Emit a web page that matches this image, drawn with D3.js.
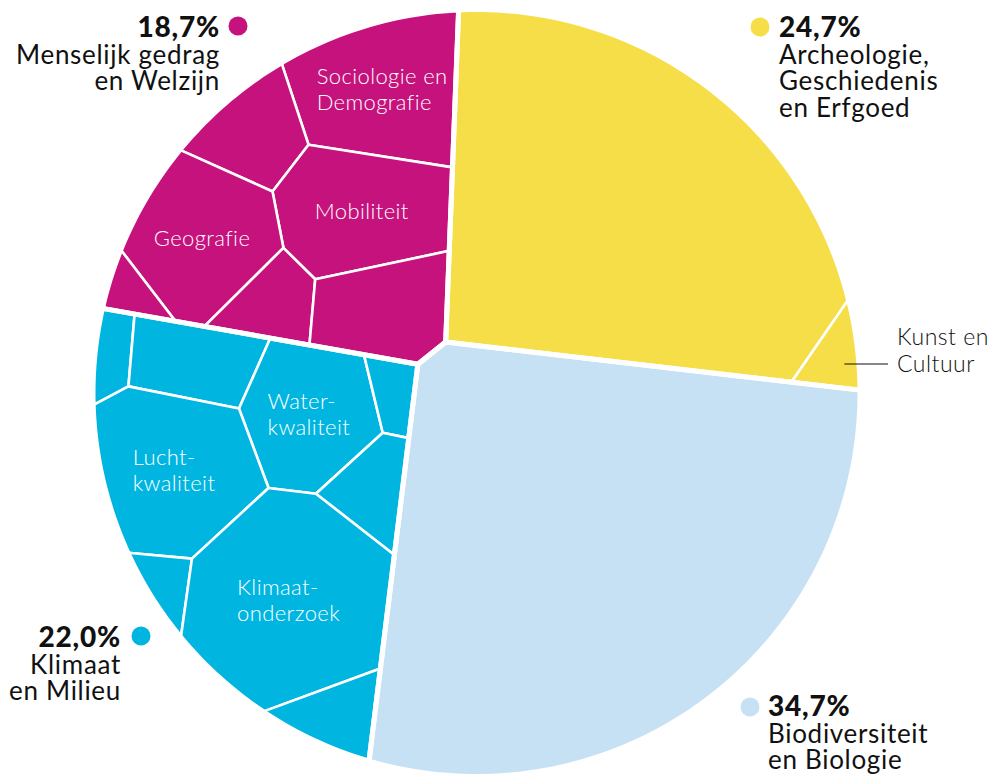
<!DOCTYPE html>
<html>
<head>
<meta charset="utf-8">
<script src="https://cdn.jsdelivr.net/npm/d3@7"></script>
<style>
	body { margin: 0; background: #fff; }
	svg { display: block; font-family: Lato, "Open Sans", sans-serif; }
	.cell-label { fill: #fff; font-weight: 300; font-size: 22px; letter-spacing: 0.4px; }
	.group-pct { font-weight: 900; font-size: 28px; letter-spacing: 0.8px; fill: #111; }
	.group-name { font-weight: 400; font-size: 26px; letter-spacing: 0.7px; fill: #111; }
	.callout { font-weight: 300; font-size: 23px; letter-spacing: 0.5px; fill: #111; }
</style>
</head>
<body>
<svg id="chart" width="996" height="776"></svg>
<script>

/* top level groups, % of all projects */
var groups = ["Menselijk gedrag|en Welzijn", "Archeologie,|Geschiedenis|en Erfgoed", "Biodiversiteit|en Biologie", "Klimaat|en Milieu"]
var groupValues = [18.7, 24.7, 34.7, 22.0]
var groupColors = ["#c5127c", "#f6de48", "#c6e1f3", "#00b6e1"]

/* sub cells inside each group (% of all) */
var magentaCells = ["Sociologie en|Demografie", "", "Mobiliteit", "Geografie", "", "", ""]
var magentaValues = [4.5, 1.9, 4.0, 3.9, 0.5, 1.3, 2.6]

var yellowCells = ["", "Kunst en|Cultuur"]
var yellowValues = [24.0, 0.7]

var blueCells = [""]
var blueValues = [34.7]

var cyanCells = ["", "", "Water-|kwaliteit", "", "Lucht-|kwaliteit", "", "", "Klimaat-|onderzoek", ""]
var cyanValues = [0.65, 2.0, 3.45, 0.65, 4.75, 1.3, 0.6, 7.4, 1.2]

var subNames = [magentaCells, yellowCells, blueCells, cyanCells]
var subValues = [magentaValues, yellowValues, blueValues, cyanValues]

/* layout: voronoi site seeds in circle units (-1..1) */
var groupSeeds = [[-0.421, -0.493], [0.400, -0.461], [0.299, 0.409], [-0.562, 0.303]]
var subSeeds = [
	[[-0.246, -0.790], [-0.570, -0.683], [-0.296, -0.472], [-0.700, -0.394], [-0.888, -0.250], [-0.536, -0.229], [-0.239, -0.203]],
	[[0.383, -0.472], [0.935, -0.091]],
	[[0.299, 0.409]],
	[[-0.950, -0.086], [-0.739, -0.068], [-0.429, 0.070], [-0.213, 0.018], [-0.794, 0.206], [-0.262, 0.253], [-0.820, 0.493], [-0.486, 0.540], [-0.372, 0.850]]
]

var cx = 476.5, cy = 393, rad = 383.5

var x = d3.scaleLinear().domain([-1, 1]).range([cx - rad, cx + rad])
var y = d3.scaleLinear().domain([-1, 1]).range([cy - rad, cy + rad])

var circle = d3.range(360).map(function(i){
	var a = i / 360 * 2 * Math.PI
	return [x(Math.cos(a)), y(Math.sin(a))]
})

/* keep the part of a convex polygon where a*x + b*y <= c */
function clip(poly, a, b, c){
	var out = []
	for (var i = 0; i < poly.length; i++){
		var p = poly[i], q = poly[(i + 1) % poly.length]
		var fp = a * p[0] + b * p[1] - c, fq = a * q[0] + b * q[1] - c
		if (fp <= 0) out.push(p)
		if ((fp < 0 && fq > 0) || (fp > 0 && fq < 0)){
			var t = fp / (fp - fq)
			out.push([p[0] + t * (q[0] - p[0]), p[1] + t * (q[1] - p[1])])
		}
	}
	return out
}

/* power diagram (weighted voronoi) clipped to a convex container */
function powerCells(sites, w, container){
	return sites.map(function(p, i){
		var poly = container
		sites.forEach(function(q, j){
			if (i == j || poly.length == 0) return
			var a = 2 * (q[0] - p[0]), b = 2 * (q[1] - p[1])
			var c = q[0] * q[0] + q[1] * q[1] - p[0] * p[0] - p[1] * p[1] - w[j] + w[i]
			poly = clip(poly, a, b, c)
		})
		return poly
	})
}

function area(poly){
	return poly.length > 2 ? Math.abs(d3.polygonArea(poly)) : 0
}

/* move the weights until every cell gets its share of the container */
function fitCells(sites, values, container, eta){
	var total = d3.sum(values)
	var targets = values.map(function(v){ return v / total * area(container) })
	var w = sites.map(function(){ return 0 })
	if (sites.length == 1) return [container]
	for (var k = 0; k < 3000; k++){
		var cells = powerCells(sites, w, container)
		for (var i = 0; i < sites.length; i++){
			w[i] += eta * (targets[i] - area(cells[i]))
		}
	}
	return powerCells(sites, w, container)
}

var toPx = function(s){ return [x(s[0]), y(s[1])] }

var groupCells = fitCells(groupSeeds.map(toPx), groupValues, circle, 0.3)

var subCells = groupCells.map(function(gc, g){
	return fitCells(subSeeds[g].map(toPx), subValues[g], gc, 0.12)
})

var svg = d3.select("#chart")

var cellLayer = svg.append("g")
var borderLayer = svg.append("g")
var labelLayer = svg.append("g")

var pathOf = function(p){ return "M" + p.join("L") + "Z" }

subCells.forEach(function(cells, g){
	cellLayer.selectAll(null)
		.data(cells)
		.enter()
		.append("path")
		.attr("d", pathOf)
		.attr("fill", groupColors[g])
		.attr("stroke", "#fff")
		.attr("stroke-width", 2.6)
		.attr("stroke-linejoin", "round")
})

borderLayer.selectAll("path")
	.data(groupCells)
	.enter()
	.append("path")
	.attr("d", pathOf)
	.attr("fill", "none")
	.attr("stroke", "#fff")
	.attr("stroke-width", 5)
	.attr("stroke-linejoin", "round")

/* labels inside the cells, centred on the cell */
function multiline(sel, text, lh){
	text.split("|").forEach(function(t, i){
		sel.append("tspan").attr("x", 0).attr("dy", i == 0 ? 0 : lh).text(t)
	})
}

subCells.forEach(function(cells, g){
	cells.forEach(function(cell, i){
		var name = subNames[g][i]
		if (!name || subValues[g][i] < 1) return
		var c = d3.polygonCentroid(cell)
		var t = labelLayer.append("text").attr("class", "cell-label")
		multiline(t, name, 26)
		var bb = t.node().getBBox()
		t.attr("transform", "translate(" + (c[0] - bb.x - bb.width / 2) + "," + (c[1] - bb.y - bb.height / 2) + ")")
	})
})

/* small cell gets a callout */
var kunst = subCells[1][1]
var kc = d3.polygonCentroid(kunst)
labelLayer.append("line")
	.attr("x1", kc[0] + 10).attr("x2", 888)
	.attr("y1", 364).attr("y2", 364)
	.attr("stroke", "#111")
	.attr("stroke-width", 1.2)
var kt = labelLayer.append("text").attr("class", "callout").attr("transform", "translate(897,345)")
multiline(kt, yellowCells[1], 27)

/* group labels */
var fmt = function(v){ return d3.format(".1f")(v).replace(".", ",") + "%" }

var groupLabels = [
	{dot: [238, 26], tx: 220, ty: 37, anchor: "end"},
	{dot: [760, 27], tx: 779, ty: 37, anchor: "start"},
	{dot: [750, 707], tx: 768, ty: 716, anchor: "start"},
	{dot: [141, 636], tx: 121, ty: 647, anchor: "end"}
]

groupLabels.forEach(function(l, g){
	labelLayer.append("circle")
		.attr("cx", l.dot[0]).attr("cy", l.dot[1]).attr("r", 9.5)
		.attr("fill", groupColors[g])

	var t = labelLayer.append("text")
		.attr("transform", "translate(" + l.tx + "," + l.ty + ")")
		.attr("text-anchor", l.anchor)

	t.append("tspan").attr("class", "group-pct").attr("x", 0).text(fmt(groupValues[g]))
	groups[g].split("|").forEach(function(s){
		t.append("tspan").attr("class", "group-name").attr("x", 0).attr("dy", 26.5).text(s)
	})
})

</script>
</body>
</html>
